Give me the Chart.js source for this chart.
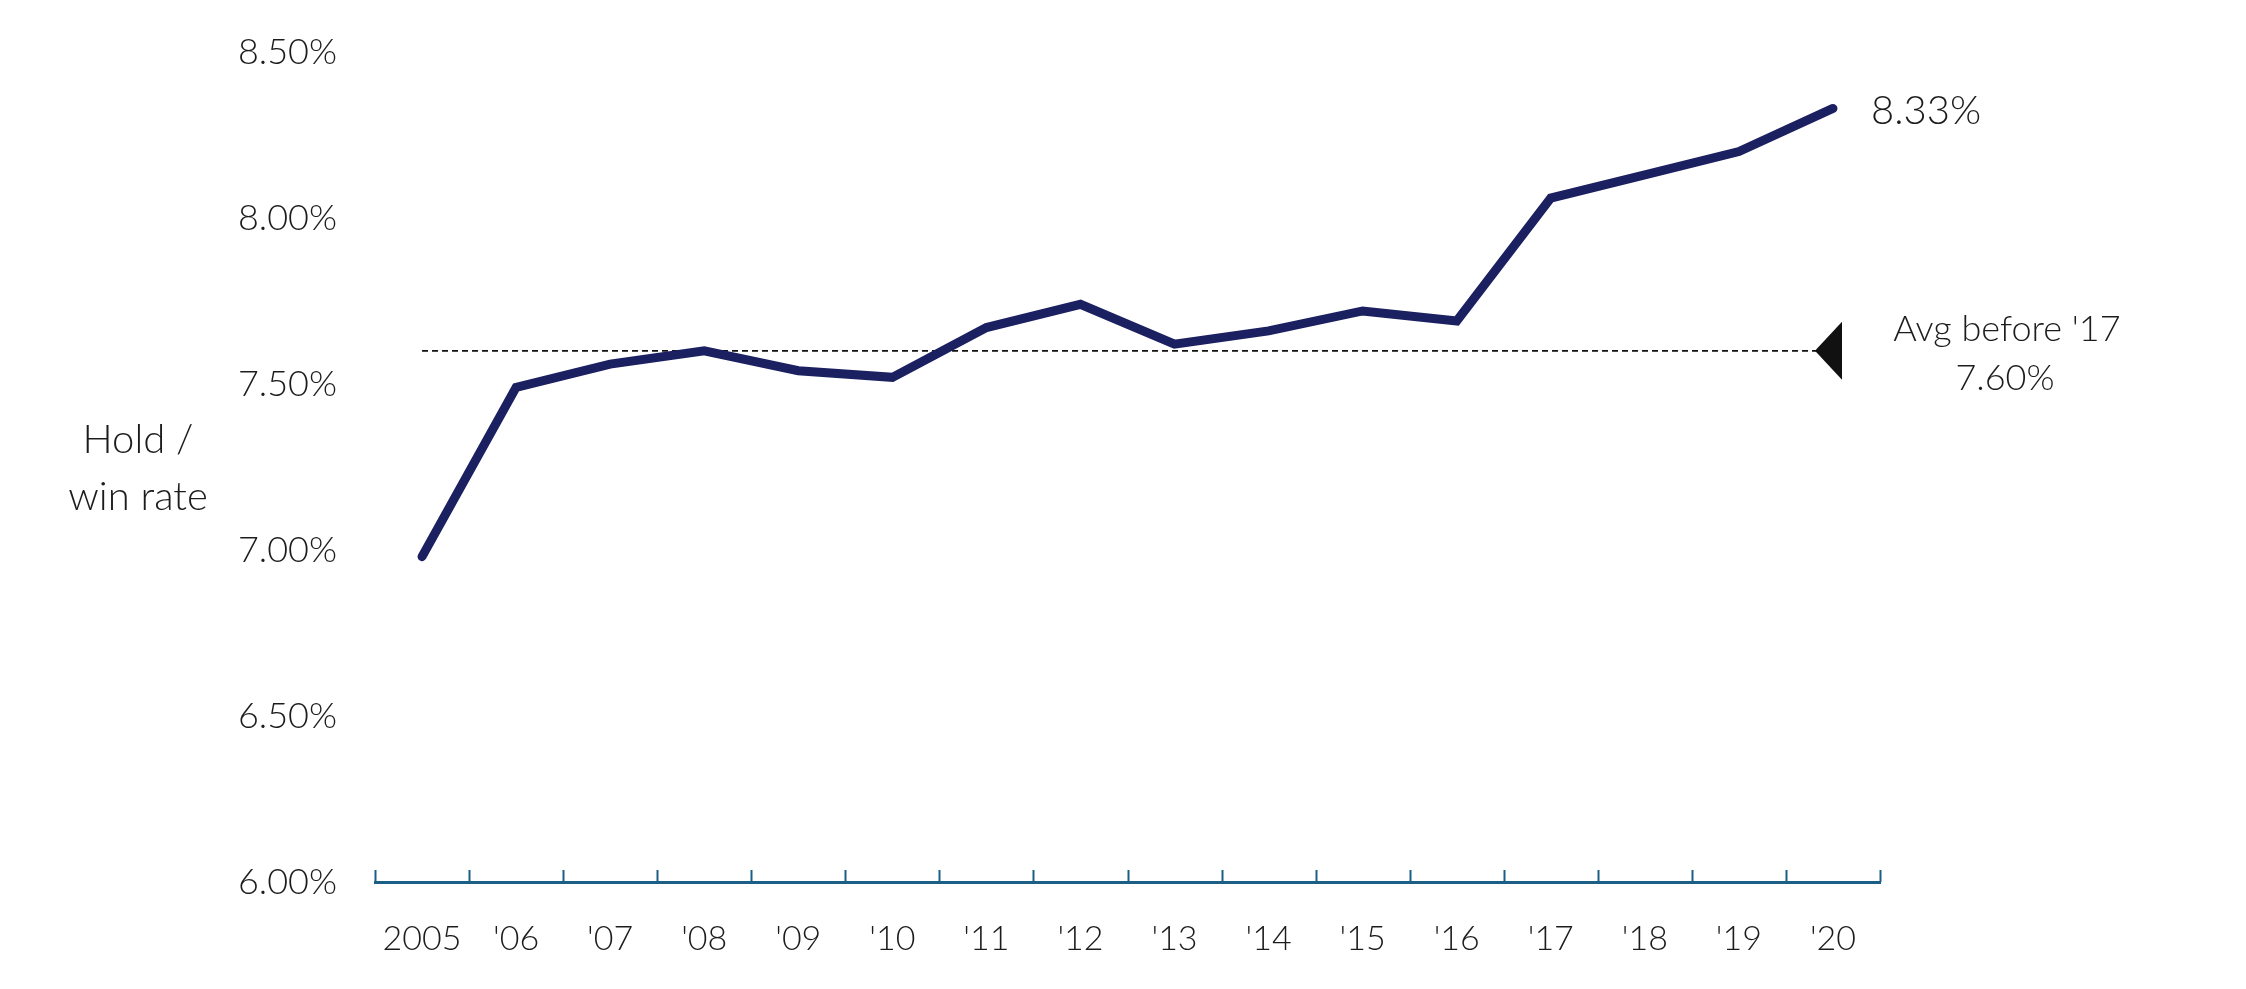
<!DOCTYPE html>
<html>
<head>
<meta charset="utf-8">
<title>Hold / win rate</title>
<script src="https://cdn.jsdelivr.net/npm/chart.js@4.4.1/dist/chart.umd.min.js"></script>
<style>
  html, body { margin: 0; padding: 0; background: #fff; }
  #wrap { width: 2246px; height: 989px; position: relative; }
</style>
</head>
<body>
<div id="wrap"><canvas id="chart"></canvas></div>
<script>
const years = ["2005", "'06", "'07", "'08", "'09", "'10", "'11", "'12", "'13", "'14", "'15", "'16", "'17", "'18", "'19", "'20"];
const holdRate = [6.98, 7.49, 7.56, 7.60, 7.54, 7.52, 7.67, 7.74, 7.62, 7.66, 7.72, 7.69, 8.06, 8.13, 8.20, 8.33];
const avgBefore17 = 7.60;
const yTicks = [6.0, 6.5, 7.0, 7.5, 8.0, 8.5];

const FONT = "Lato";
const TEXT = "#1c1c1c";
const NAVY = "#1b2061";
const AXIS = "#1b5e86";

const annotations = {
  id: "annotations",
  afterDatasetsDraw(chart) {
    const ctx = chart.ctx;
    const x = chart.scales.x;
    const y = chart.scales.y;
    const n = years.length;
    const step = x.width / n;

    ctx.save();
    // tick marks pointing up from the axis line
    ctx.strokeStyle = AXIS;
    ctx.lineWidth = 2;
    for (let i = 0; i <= n; i++) {
      const px = Math.round(x.left + i * step) + 0.5;
      ctx.beginPath();
      ctx.moveTo(px, y.bottom);
      ctx.lineTo(px, y.bottom - 12);
      ctx.stroke();
    }

    // triangle marker at end of average line
    const lastX = x.getPixelForValue(n - 1);
    const avgY = y.getPixelForValue(avgBefore17);
    ctx.fillStyle = "#111";
    ctx.beginPath();
    ctx.moveTo(lastX - 18, avgY);
    ctx.lineTo(lastX + 9, avgY - 29);
    ctx.lineTo(lastX + 9, avgY + 29);
    ctx.closePath();
    ctx.fill();

    ctx.fillStyle = TEXT;
    ctx.font = "300 36px " + FONT;
    ctx.textAlign = "center";
    ctx.textBaseline = "middle";
    ctx.fillText("Avg before '17", lastX + 174, avgY - 21);
    ctx.fillText(avgBefore17.toFixed(2) + "%", lastX + 172, avgY + 28);

    // end value label
    const endY = y.getPixelForValue(holdRate[n - 1]);
    ctx.font = "300 40px " + FONT;
    ctx.textAlign = "left";
    ctx.fillText(holdRate[n - 1].toFixed(2) + "%", lastX + 38, endY + 3);

    // axis title
    ctx.font = "300 40px " + FONT;
    ctx.textAlign = "center";
    ctx.fillText("Hold /", 138, 440);
    ctx.fillText("win rate", 138, 497);
    ctx.restore();
  }
};

new Chart(document.getElementById("chart"), {
  type: "line",
  data: {
    labels: years,
    datasets: [
      {
        label: "Hold / win rate",
        data: holdRate,
        borderColor: NAVY,
        borderWidth: 9,
        borderCapStyle: "round",
        borderJoinStyle: "miter",
        pointRadius: 0,
        tension: 0,
        order: 0
      },
      {
        label: "Avg before '17",
        data: years.map(() => avgBefore17),
        borderColor: "#111",
        borderWidth: 1.8,
        borderDash: [6, 4],
        pointRadius: 0,
        tension: 0,
        order: 1
      }
    ]
  },
  options: {
    responsive: true,
    maintainAspectRatio: false,
    animation: false,
    events: [],
    layout: { padding: { top: 52, right: 366, bottom: 0, left: 0 } },
    plugins: {
      legend: { display: false },
      tooltip: { enabled: false }
    },
    scales: {
      x: {
        type: "category",
        offset: true,
        grid: { display: false, offset: true },
        border: { display: true, color: AXIS, width: 3 },
        ticks: {
          color: TEXT,
          font: { family: FONT, size: 34, weight: 300 },
          padding: 29,
          maxRotation: 0,
          autoSkip: false
        },
        afterFit(scale) {
          scale.height = 107;
          scale.paddingLeft = 0;
          scale.paddingRight = 0;
        }
      },
      y: {
        min: 6.0,
        max: 8.5,
        grid: { display: false, drawTicks: false },
        border: { display: false },
        afterBuildTicks(scale) { scale.ticks = yTicks.map(v => ({ value: v })); },
        ticks: {
          color: TEXT,
          font: { family: FONT, size: 36, weight: 300 },
          padding: 38,
          callback: v => Number(v).toFixed(2) + "%"
        },
        afterFit(scale) {
          scale.width = 375;
          scale.paddingTop = 0;
          scale.paddingBottom = 0;
        }
      }
    }
  },
  plugins: [annotations]
});
</script>
</body>
</html>
